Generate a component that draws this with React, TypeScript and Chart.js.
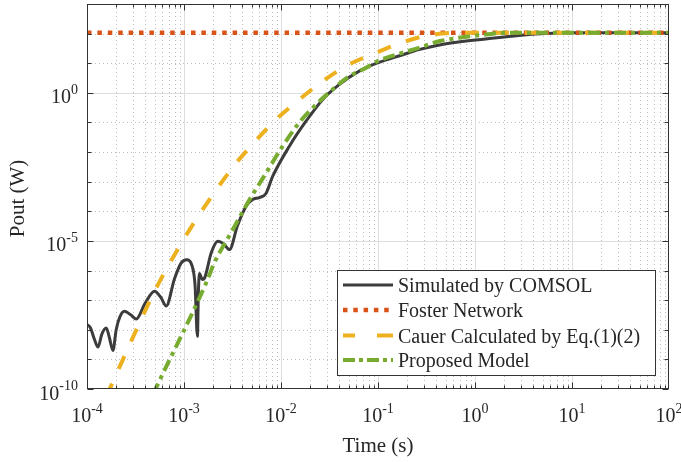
import { useEffect, useRef } from 'react';
import { Chart, registerables } from 'chart.js';

Chart.register(...registerables);

// ---------- data ----------
const seriesLabels = [
  'Simulated by COMSOL',
  'Foster Network',
  'Cauer Calculated by Eq.(1)(2)',
  'Proposed Model',
];

const simTime = [
  1.0e-4, 1.08e-4, 1.2e-4, 1.3e-4, 1.42e-4, 1.58e-4, 1.7e-4, 1.85e-4, 2.0e-4, 2.19e-4,
  2.44e-4, 2.82e-4, 3.22e-4, 3.98e-4, 4.97e-4, 5.75e-4, 6.56e-4, 7.94e-4, 9.33e-4, 1.07e-3,
  1.2e-3, 1.3e-3, 1.375e-3, 1.406e-3, 1.44e-3, 1.55e-3, 1.63e-3, 1.91e-3, 2.23e-3, 2.57e-3,
  2.94e-3, 3.55e-3, 4.37e-3, 5.1e-3, 5.98e-3, 7.0e-3, 8.2e-3, 1.22e-2, 1.81e-2, 2.68e-2,
  3.98e-2, 6.4e-2, 9.86e-2, 0.177, 0.264, 0.583, 1.29, 2.83, 5.3, 10, 100,
];
const simPower = [
  1.48e-8, 1.2e-8, 4.5e-9, 2.6e-9, 7.0e-9, 1.15e-8, 5.5e-9, 2.0e-9, 1.0e-8, 2.8e-8,
  4.2e-8, 3.2e-8, 2.3e-8, 7.9e-8, 2.0e-7, 1.26e-7, 6.3e-8, 5.0e-7, 1.78e-6, 2.3e-6,
  1.58e-6, 3.2e-7, 6.0e-9, 1.58e-7, 7.9e-7, 5.0e-7, 5.6e-7, 4.0e-6, 9.8e-6, 7.9e-6,
  5.1e-6, 3.2e-5, 1.48e-4, 2.5e-4, 2.9e-4, 4.0e-4, 1.5e-3, 1.58e-2, 0.11, 0.59,
  1.9, 5.4, 10.2, 19, 28.8, 49, 66, 87, 100, 107, 107,
];

const fosterTime = [1e-4, 100];
const fosterPower = [107, 107];

const cauerTime = [
  1.585e-4, 1.714e-4, 3.35e-4, 4.97e-4, 8.99e-4, 1.44e-3, 3.39e-3, 4.72e-3, 8.2e-3, 1.54e-2,
  2.68e-2, 5.05e-2, 9.48e-2, 0.193, 0.363, 0.8, 100,
];
const cauerPower = [
  5.6e-11, 1e-10, 1.29e-8, 2.0e-7, 6.6e-6, 7.8e-5, 3.98e-3, 1.38e-2, 9.8e-2, 0.59,
  2.45, 9.1, 22.4, 55, 93, 107, 107,
];

const propTime = [
  4.79e-4, 5.09e-4, 1.69e-3, 2.06e-3, 3.16e-3, 4.73e-3, 6.68e-3, 1.04e-2, 1.54e-2, 2.29e-2,
  3.4e-2, 5.05e-2, 7.5e-2, 9.86e-2, 0.177, 0.264, 0.425, 0.682, 1.29, 2.07, 100,
];
const propPower = [
  6.5e-11, 1e-10, 3.8e-7, 1.86e-6, 2.3e-5, 2.45e-4, 1.51e-3, 1.58e-2, 9.8e-2, 0.4,
  1.29, 3.63, 6.9, 11.7, 22.4, 33, 55, 72, 93, 107, 107,
];

const xTickValues = [1e-4, 1e-3, 1e-2, 1e-1, 1e0, 1e1, 1e2];
const xTickExponents = ['-4', '-3', '-2', '-1', '0', '1', '2'];
const yTickValues = [1e-10, 1e-5, 1e0];
const yTickExponents = ['-10', '-5', '0'];
const xTitle = 'Time (s)';
const yTitle = 'Pout (W)';

// ---------- styles ----------
const FONT = '"Liberation Serif", "Times New Roman", serif';
const TEXT = '#262626';
const AXIS = '#333333';

const toXY = (xs: number[], ys: number[]) => xs.map((x, i) => ({ x, y: ys[i] }));

function drawPow(ctx: CanvasRenderingContext2D, exp: string, x: number, y: number, supY: number, align: 'center' | 'right') {
  ctx.font = `20px ${FONT}`;
  const wb = ctx.measureText('10').width;
  ctx.font = `14px ${FONT}`;
  const we = ctx.measureText(exp).width;
  const total = wb + we;
  const sx = align === 'center' ? x - total / 2 : x - total;
  ctx.textAlign = 'left';
  ctx.textBaseline = 'alphabetic';
  ctx.fillStyle = TEXT;
  ctx.font = `20px ${FONT}`;
  ctx.fillText('10', sx, y);
  ctx.font = `14px ${FONT}`;
  ctx.fillText(exp, sx + wb, supY);
}

const decorPlugin = {
  id: 'decor',
  beforeDatasetsDraw(chart: any) {
    const { ctx, chartArea: a, scales } = chart;
    const xs = scales.x;
    const ys = scales.y;
    ctx.save();
    ctx.beginPath();
    ctx.rect(a.left, a.top, a.right - a.left, a.bottom - a.top);
    ctx.clip();
    // minor grid (dotted)
    ctx.lineWidth = 1;
    ctx.strokeStyle = '#bdbdbd';
    ctx.setLineDash([1, 3]);
    ctx.beginPath();
    for (let k = -4; k <= 1; k++) {
      for (let m = 2; m <= 9; m++) {
        const px = Math.round(xs.getPixelForValue(m * Math.pow(10, k))) + 0.5;
        ctx.moveTo(px, a.top);
        ctx.lineTo(px, a.bottom);
      }
    }
    for (let k = -9; k <= 2; k++) {
      if (k === -5 || k === 0) continue;
      const py = Math.round(ys.getPixelForValue(Math.pow(10, k))) + 0.5;
      ctx.moveTo(a.left, py);
      ctx.lineTo(a.right, py);
    }
    ctx.stroke();
    // major grid (solid, light)
    ctx.setLineDash([]);
    ctx.strokeStyle = '#dedede';
    ctx.beginPath();
    for (let i = 1; i < xTickValues.length - 1; i++) {
      const px = Math.round(xs.getPixelForValue(xTickValues[i])) + 0.5;
      ctx.moveTo(px, a.top);
      ctx.lineTo(px, a.bottom);
    }
    for (let i = 1; i < yTickValues.length; i++) {
      const py = Math.round(ys.getPixelForValue(yTickValues[i])) + 0.5;
      ctx.moveTo(a.left, py);
      ctx.lineTo(a.right, py);
    }
    ctx.stroke();
    ctx.restore();
  },
  afterDatasetsDraw(chart: any) {
    const { ctx, chartArea: a, scales } = chart;
    const xs = scales.x;
    const ys = scales.y;
    ctx.save();
    const L = Math.round(a.left) + 0.5;
    const R = Math.round(a.right) - 0.5;
    const T = Math.round(a.top) + 0.5;
    const B = Math.round(a.bottom) - 0.5;
    // ticks
    ctx.strokeStyle = AXIS;
    ctx.lineWidth = 1;
    ctx.beginPath();
    for (let k = -4; k <= 1; k++) {
      for (let m = 1; m <= 9; m++) {
        const px = Math.round(xs.getPixelForValue(m * Math.pow(10, k))) + 0.5;
        const len = m === 1 ? 6 : 3;
        ctx.moveTo(px, B); ctx.lineTo(px, B - len);
        ctx.moveTo(px, T); ctx.lineTo(px, T + len);
      }
    }
    for (let k = -10; k <= 3; k++) {
      const py = Math.round(ys.getPixelForValue(Math.pow(10, k))) + 0.5;
      const len = k % 5 === 0 ? 6 : 4;
      ctx.moveTo(L, py); ctx.lineTo(L + len, py);
      ctx.moveTo(R, py); ctx.lineTo(R - len, py);
    }
    ctx.stroke();
    // box
    ctx.strokeRect(L, T, R - L, B - T);

    // tick labels
    xTickValues.forEach((v, i) => {
      const px = xs.getPixelForValue(v);
      drawPow(ctx, xTickExponents[i], px, a.bottom + 33, a.bottom + 24, 'center');
    });
    yTickValues.forEach((v, i) => {
      const py = ys.getPixelForValue(v);
      drawPow(ctx, yTickExponents[i], a.left - 9, py + 10.5, py + 1, 'right');
    });

    // axis titles
    ctx.fillStyle = TEXT;
    ctx.font = `21px ${FONT}`;
    ctx.textAlign = 'center';
    ctx.textBaseline = 'alphabetic';
    ctx.fillText(xTitle, (a.left + a.right) / 2, 451.5);
    ctx.save();
    ctx.translate(24, (a.top + a.bottom) / 2 + 2);
    ctx.rotate(-Math.PI / 2);
    ctx.fillText(yTitle, 0, 0);
    ctx.restore();

    // legend
    const lx = 337.5, ly = 270.5, lw = 318, lh = 105;
    ctx.fillStyle = '#ffffff';
    ctx.fillRect(lx, ly, lw, lh);
    ctx.strokeStyle = AXIS;
    ctx.lineWidth = 1;
    ctx.strokeRect(lx, ly, lw, lh);
    const rows = [285, 310, 335.5, 360];
    const legendDash = [[], [4.5, 5.8], [12, 22, 16], [12, 4, 4, 4]];
    chart.data.datasets.forEach((ds: any, i: number) => {
      const ry = rows[i];
      ctx.save();
      ctx.strokeStyle = ds.borderColor;
      ctx.lineWidth = ds.borderWidth;
      ctx.setLineDash(legendDash[i]);
      ctx.lineCap = 'butt';
      ctx.beginPath();
      ctx.moveTo(343, ry);
      ctx.lineTo(393, ry);
      ctx.stroke();
      ctx.restore();
      ctx.fillStyle = TEXT;
      ctx.font = `20px ${FONT}`;
      ctx.textAlign = 'left';
      ctx.textBaseline = 'alphabetic';
      ctx.fillText(seriesLabels[i], 398, ry + 7);
    });
    ctx.restore();
  },
};

export default function App() {
  const ref = useRef<HTMLCanvasElement | null>(null);
  useEffect(() => {
    if (!ref.current) return;
    const chart = new Chart(ref.current, {
      type: 'line',
      data: {
        datasets: [
          {
            label: seriesLabels[0],
            data: toXY(simTime, simPower),
            borderColor: '#3c3c3c',
            borderWidth: 3,
            pointRadius: 0,
            fill: false,
            cubicInterpolationMode: 'monotone',
            clip: 0,
            order: 4,
          },
          {
            label: seriesLabels[1],
            data: toXY(fosterTime, fosterPower),
            borderColor: '#D95319',
            borderWidth: 4.5,
            borderDash: [4.5, 5.9],
            pointRadius: 0,
            fill: false,
            clip: 0,
            order: 3,
          },
          {
            label: seriesLabels[2],
            data: toXY(cauerTime, cauerPower),
            borderColor: '#EDB120',
            borderWidth: 4,
            borderDash: [14, 16],
            pointRadius: 0,
            fill: false,
            cubicInterpolationMode: 'monotone',
            clip: 0,
            order: 2,
          },
          {
            label: seriesLabels[3],
            data: toXY(propTime, propPower),
            borderColor: '#77AC30',
            borderWidth: 4,
            borderDash: [12, 5, 4, 5],
            pointRadius: 0,
            fill: false,
            cubicInterpolationMode: 'monotone',
            clip: 0,
            order: 1,
          },
        ],
      } as any,
      options: {
        responsive: false,
        animation: false,
        devicePixelRatio: 1,
        layout: { padding: { left: 0, top: 4, right: 12, bottom: 0 } },
        plugins: { legend: { display: false }, tooltip: { enabled: false } },
        events: [],
        scales: {
          x: {
            type: 'logarithmic',
            min: 1e-4,
            max: 100,
            ticks: { display: false },
            grid: { display: false },
            border: { display: false },
            afterFit: (s: any) => { s.height = 73; },
          },
          y: {
            type: 'logarithmic',
            min: 1e-10,
            max: 1e3,
            ticks: { display: false },
            grid: { display: false },
            border: { display: false },
            afterFit: (s: any) => { s.width = 87; },
          },
        },
      } as any,
      plugins: [decorPlugin],
    });
    return () => chart.destroy();
  }, []);
  return (
    <div style={{ position: 'absolute', left: 0, top: 0, width: 681, height: 462, background: '#fff' }}>
      <canvas ref={ref} width={681} height={462} style={{ display: 'block' }} />
    </div>
  );
}
